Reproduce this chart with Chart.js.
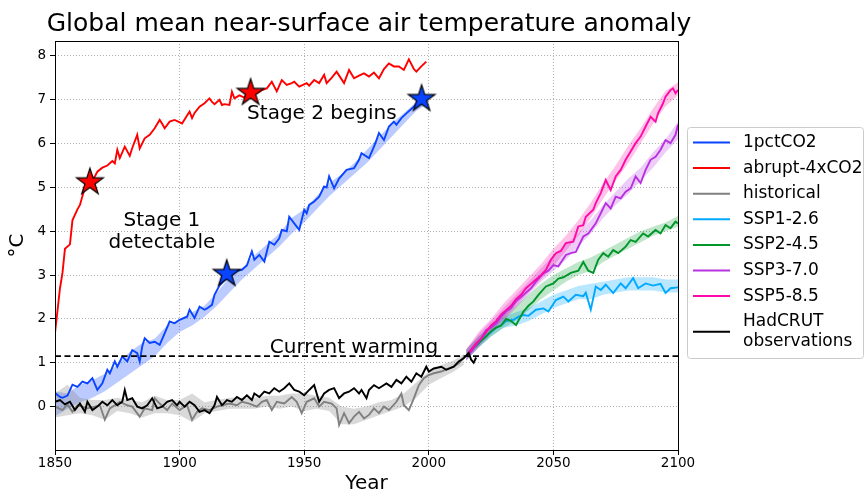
<!DOCTYPE html>
<html>
<head>
<meta charset="utf-8">
<script src="https://cdn.jsdelivr.net/npm/chart.js@4.4.1/dist/chart.umd.min.js"></script>
<style>
  html, body { margin: 0; padding: 0; background: #fff; }
  #wrap { width: 867px; height: 494px; }
</style>
</head>
<body>
<div id="wrap"><canvas id="chart" width="867" height="494"></canvas></div>
<script>
// ---- data ----
const abruptYears = [1850,1852,1853,1854,1856,1857,1859,1860,1862,1864,1866,1867,1869,1871,1873,1874,1875,1876,1877,1878,1880,1881,1883,1884,1886,1888,1890,1892,1893,1894,1896,1898,1901,1902,1904,1905,1906,1908,1910,1912,1913,1914,1916,1917,1918,1920,1921,1922,1924,1926,1927,1929,1931,1933,1935,1937,1939,1941,1943,1945,1946,1948,1951,1952,1954,1956,1958,1959,1961,1963,1966,1968,1970,1972,1974,1976,1978,1980,1982,1984,1986,1988,1990,1992,1994,1995,1997,1999];
const abruptTemp = [1.68,2.7,3.05,3.6,3.7,4.25,4.5,4.6,5.0,5.12,5.25,5.36,5.45,5.5,5.6,5.55,5.86,5.67,5.8,5.93,5.72,5.9,6.2,5.89,6.12,6.2,6.35,6.54,6.45,6.35,6.5,6.54,6.46,6.55,6.73,6.58,6.7,6.84,6.92,7.03,6.95,6.9,7.0,6.88,6.9,6.88,7.18,7.03,7.1,7.05,7.15,7.19,7.15,7.22,7.26,7.41,7.19,7.45,7.34,7.38,7.41,7.3,7.38,7.32,7.45,7.38,7.57,7.38,7.5,7.64,7.38,7.68,7.49,7.55,7.6,7.53,7.62,7.49,7.7,7.83,7.76,7.76,7.68,7.92,7.7,7.64,7.76,7.87];

const pctYears = [1850,1852,1853,1855,1857,1859,1861,1863,1865,1867,1869,1871,1872,1874,1875,1877,1879,1881,1883,1884,1885,1886,1888,1890,1892,1894,1896,1898,1900,1903,1904,1906,1908,1910,1911,1913,1914,1916,1918,1920,1923,1925,1927,1929,1930,1932,1934,1936,1938,1940,1941,1943,1944,1946,1948,1950,1951,1952,1954,1956,1958,1959,1960,1962,1964,1967,1970,1972,1973,1976,1978,1979,1980,1982,1984,1986,1987,1989,1991,1994,1996,1998];
const pctTemp = [0.31,0.22,0.2,0.25,0.5,0.45,0.57,0.53,0.65,0.38,0.53,0.84,0.76,1.03,0.91,1.14,1.03,1.29,1.22,1.03,1.37,1.56,1.45,1.48,1.41,1.67,1.94,1.9,1.98,2.05,2.21,2.02,2.28,2.21,2.24,2.32,2.55,2.76,2.89,2.97,3.1,3.12,3.22,3.54,3.35,3.46,3.31,3.76,3.69,3.84,4.03,4.0,4.33,4.18,4.03,4.49,4.41,4.6,4.68,4.79,5.02,5.0,5.25,4.98,5.2,5.4,5.44,5.63,5.78,5.67,5.93,6.08,6.24,6.08,6.39,6.5,6.43,6.58,6.69,6.84,6.96,7.02];
const pctBandYears = [1850,1855,1860,1865,1870,1875,1880,1885,1890,1895,1900,1905,1910,1915,1920,1925,1930,1935,1940,1945,1950,1955,1960,1965,1970,1975,1980,1985,1990,1995,1998];
const pctBandLow = [-0.22,-0.05,0.1,0.2,0.35,0.55,0.75,0.95,1.15,1.45,1.7,1.85,2.05,2.3,2.6,2.9,3.15,3.4,3.65,3.95,4.2,4.5,4.8,5.05,5.3,5.55,5.85,6.15,6.45,6.75,6.85];
const pctBandHigh = [0.35,0.3,0.5,0.6,0.75,0.95,1.25,1.45,1.55,1.85,2.0,2.15,2.3,2.6,2.95,3.15,3.45,3.7,3.95,4.3,4.5,4.8,5.1,5.3,5.55,5.85,6.15,6.45,6.7,6.95,7.0];

const histYears = [1850,1853,1855,1857,1859,1861,1863,1866,1868,1870,1872,1874,1876,1879,1881,1884,1886,1889,1890,1892,1895,1897,1900,1903,1905,1907,1909,1912,1915,1917,1920,1923,1925,1928,1931,1933,1935,1937,1939,1942,1945,1947,1949,1951,1954,1956,1958,1961,1963,1964,1966,1968,1970,1972,1974,1976,1978,1980,1982,1984,1987,1989,1990,1992,1994,1996,1998,2000,2002,2005,2008,2010,2012,2014];
const histTemp = [0.0,-0.08,0.05,-0.12,0.03,0.0,-0.04,0.0,0.03,-0.3,-0.04,0.03,0.11,0.03,0.0,-0.23,-0.04,-0.08,0.19,0.07,-0.08,0.07,-0.08,0.03,-0.3,-0.12,-0.04,-0.08,0.0,0.03,0.07,0.03,0.11,0.07,0.0,0.11,0.15,-0.08,0.11,0.07,0.22,0.11,-0.15,0.11,0.19,0.0,0.11,0.07,-0.04,-0.42,-0.15,-0.38,-0.23,-0.12,-0.27,-0.19,-0.04,-0.15,0.0,-0.08,0.11,0.3,0.03,-0.08,0.19,0.49,0.65,0.72,0.76,0.8,0.87,0.91,0.99,1.12];
const histBandYears = [1850,1855,1860,1865,1870,1875,1880,1885,1890,1895,1900,1905,1910,1915,1920,1925,1930,1935,1940,1945,1950,1955,1960,1965,1970,1975,1980,1985,1990,1995,2000,2005,2010,2014];
const histBandLow = [-0.25,-0.2,-0.15,-0.2,-0.3,-0.1,-0.15,-0.25,-0.15,-0.15,-0.2,-0.35,-0.15,-0.1,-0.05,-0.05,-0.05,0.0,-0.05,0.0,-0.1,-0.05,-0.1,-0.4,-0.4,-0.3,-0.2,-0.1,0.0,0.2,0.5,0.65,0.8,0.95];
const histBandHigh = [0.3,0.5,0.2,0.15,0.15,0.2,0.15,0.1,0.25,0.15,0.15,0.3,0.1,0.15,0.2,0.2,0.2,0.25,0.25,0.3,0.3,0.25,0.2,0.0,-0.05,0.0,0.1,0.15,0.3,0.55,0.8,0.95,1.05,1.2];

const obsYears = [1850,1852,1854,1856,1858,1860,1862,1863,1865,1867,1869,1871,1873,1875,1877,1878,1879,1881,1883,1885,1887,1889,1891,1893,1895,1897,1899,1900,1902,1904,1906,1908,1910,1912,1914,1915,1917,1919,1921,1923,1925,1927,1929,1930,1932,1934,1936,1938,1940,1942,1944,1946,1948,1950,1952,1954,1956,1958,1960,1962,1964,1966,1968,1970,1972,1973,1975,1976,1978,1980,1983,1985,1987,1989,1991,1993,1995,1997,1999,2000,2002,2005,2007,2010,2012,2014,2016,2017,2018,2019];
const obsTemp = [0.11,0.15,0.05,0.11,-0.08,0.07,-0.12,0.11,-0.08,0.0,0.11,0.03,0.15,0.03,0.11,0.38,0.15,0.19,0.0,-0.04,0.03,0.19,-0.04,0.0,0.11,0.15,0.03,0.11,0.0,0.11,0.03,-0.12,-0.08,-0.15,0.03,0.22,0.03,0.15,0.11,0.22,0.15,0.26,0.15,0.3,0.22,0.34,0.3,0.42,0.34,0.42,0.53,0.38,0.34,0.26,0.38,0.49,0.11,0.3,0.38,0.42,0.19,0.3,0.34,0.42,0.3,0.38,0.19,0.38,0.49,0.42,0.53,0.45,0.61,0.53,0.68,0.57,0.76,0.68,0.91,0.8,0.87,0.91,0.84,0.91,1.03,1.1,1.22,1.07,1.0,1.12];

const ssp1Years = [2015,2017,2019,2021,2023,2025,2027,2029,2031,2034,2036,2038,2040,2043,2046,2048,2051,2054,2056,2059,2062,2063,2065,2067,2069,2071,2074,2077,2079,2082,2084,2087,2090,2093,2095,2097,2100];
const ssp1Temp = [1.15,1.3,1.4,1.5,1.62,1.7,1.8,1.85,1.95,1.98,2.05,2.09,2.07,2.21,2.24,2.17,2.43,2.51,2.4,2.55,2.52,2.6,2.21,2.74,2.66,2.78,2.59,2.81,2.7,2.93,2.7,2.81,2.76,2.8,2.59,2.7,2.72];
const ssp2Years = [2015,2017,2019,2021,2023,2025,2027,2029,2031,2033,2035,2038,2040,2042,2044,2047,2050,2052,2054,2057,2060,2062,2064,2066,2068,2070,2072,2074,2076,2079,2081,2083,2086,2088,2091,2093,2095,2097,2099,2100];
const ssp2Temp = [1.15,1.3,1.38,1.5,1.6,1.72,1.8,1.85,2.0,1.95,1.86,2.17,2.3,2.4,2.55,2.74,2.81,2.92,2.95,3.05,3.1,3.3,3.1,3.05,3.35,3.5,3.42,3.57,3.5,3.65,3.8,3.76,3.95,3.88,4.03,3.95,4.14,4.07,4.22,4.18];
const ssp3Years = [2015,2017,2019,2021,2023,2025,2027,2029,2031,2033,2035,2037,2039,2041,2043,2046,2048,2050,2052,2055,2057,2059,2062,2064,2067,2069,2071,2073,2075,2077,2079,2081,2083,2085,2087,2089,2091,2093,2095,2097,2099,2100];
const ssp3Temp = [1.15,1.25,1.4,1.55,1.75,1.8,1.9,2.05,2.17,2.25,2.4,2.5,2.6,2.7,2.85,3.04,3.1,3.23,3.2,3.46,3.5,3.53,3.88,3.95,4.18,4.41,4.64,4.52,4.79,4.75,4.9,4.98,5.25,5.1,5.4,5.63,5.7,5.86,6.08,6.01,6.2,6.43];
const ssp5Years = [2015,2017,2019,2021,2023,2025,2027,2029,2031,2033,2035,2037,2039,2041,2043,2045,2047,2049,2051,2053,2055,2058,2060,2062,2063,2066,2067,2069,2071,2073,2075,2077,2079,2081,2083,2085,2087,2089,2091,2092,2094,2095,2097,2098,2099,2100];
const ssp5Temp = [1.15,1.3,1.45,1.55,1.7,1.85,1.95,2.1,2.2,2.3,2.45,2.55,2.7,2.8,2.9,3.0,3.12,3.35,3.5,3.55,3.73,3.76,4.11,4.14,4.33,4.49,4.64,4.87,5.17,4.94,5.25,5.4,5.63,5.82,6.01,6.16,6.39,6.61,6.5,6.69,6.92,7.07,7.22,7.26,7.15,7.22];

const sspBandYears = [2015,2020,2025,2030,2035,2040,2045,2050,2055,2060,2065,2070,2075,2080,2085,2090,2095,2100];
const ssp1Low = [1.05,1.35,1.6,1.8,1.85,1.95,2.1,2.25,2.35,2.45,2.45,2.55,2.6,2.65,2.65,2.65,2.6,2.6];
const ssp1High = [1.3,1.6,1.85,2.05,2.15,2.25,2.4,2.55,2.65,2.75,2.8,2.85,2.9,2.95,2.95,2.95,2.9,2.9];
const ssp2Low = [1.05,1.35,1.6,1.8,1.95,2.2,2.45,2.65,2.85,3.0,3.1,3.3,3.45,3.6,3.75,3.9,4.0,4.1];
const ssp2High = [1.3,1.6,1.85,2.1,2.3,2.55,2.8,3.0,3.15,3.3,3.4,3.55,3.7,3.85,4.0,4.1,4.2,4.35];
const ssp3Low = [1.05,1.35,1.65,1.95,2.25,2.55,2.85,3.1,3.35,3.65,3.95,4.3,4.6,4.85,5.15,5.45,5.8,6.1];
const ssp3High = [1.3,1.65,1.95,2.25,2.55,2.85,3.15,3.45,3.7,3.95,4.25,4.6,4.9,5.2,5.45,5.8,6.1,6.5];
const ssp5Low = [1.05,1.4,1.7,2.0,2.3,2.6,2.9,3.2,3.55,3.9,4.3,4.75,5.15,5.55,6.0,6.45,6.85,7.1];
const ssp5High = [1.3,1.7,2.0,2.35,2.65,2.95,3.25,3.6,3.9,4.25,4.65,5.1,5.5,5.95,6.35,6.8,7.2,7.4];

const currentWarming = 1.15;
const warmingYears = [1850, 2100];

const redStarYears = [1864, 1928.5];
const redStarTemp = [5.13, 7.17];
const blueStarYears = [1918.9, 1997.1];
const blueStarTemp = [3.04, 7.03];

const xTicks = [1850, 1900, 1950, 2000, 2050, 2100];
const yTicks = [0, 1, 2, 3, 4, 5, 6, 7, 8];

// ---- helpers ----
Chart.defaults.font.family = "'DejaVu Sans', sans-serif";
Chart.defaults.color = '#000';

function pts(xs, ys) {
  return xs.map((x, i) => ({ x: x, y: ys[i] }));
}

function starImage(fill) {
  const c = document.createElement('canvas');
  c.width = 32; c.height = 32;
  const g = c.getContext('2d');
  const R = 14, r = 14 * 0.382;
  g.beginPath();
  for (let k = 0; k < 10; k++) {
    const rad = k % 2 === 0 ? R : r;
    const ang = -Math.PI / 2 + k * Math.PI / 5;
    const px = 16 + rad * Math.cos(ang), py = 16.5 + rad * Math.sin(ang);
    if (k === 0) g.moveTo(px, py); else g.lineTo(px, py);
  }
  g.closePath();
  g.fillStyle = fill;
  g.fill();
  g.lineWidth = 1.2;
  g.strokeStyle = '#000';
  g.stroke();
  return c;
}

const datasets = [];

function addLine(label, xs, ys, color, order) {
  datasets.push({
    label: label, data: pts(xs, ys), borderColor: color, backgroundColor: color,
    borderWidth: 1.9, pointRadius: 0, fill: false, order: order, inLegend: true
  });
}

function addBand(xs, lo, hi, color, order) {
  const lowIndex = datasets.length;
  datasets.push({
    data: pts(xs, lo), borderColor: 'rgba(0,0,0,0)', borderWidth: 0,
    pointRadius: 0, fill: false, order: order
  });
  datasets.push({
    data: pts(xs, hi), borderColor: 'rgba(0,0,0,0)', borderWidth: 0,
    pointRadius: 0, fill: { target: lowIndex }, backgroundColor: color, order: order
  });
}

// legend order
addLine('1pctCO2', pctYears, pctTemp, '#0a44ff', 9);
addLine('abrupt-4xCO2', abruptYears, abruptTemp, '#ff0000', 8);
addLine('historical', histYears, histTemp, '#808080', 7);
addLine('SSP1-2.6', ssp1Years, ssp1Temp, '#00a8ff', 6);
addLine('SSP2-4.5', ssp2Years, ssp2Temp, '#00962a', 5);
addLine('SSP3-7.0', ssp3Years, ssp3Temp, '#b832e0', 4);
addLine('SSP5-8.5', ssp5Years, ssp5Temp, '#ff0aa8', 3);
addLine('HadCRUT\nobservations', obsYears, obsTemp, '#000000', 2);

datasets.push({
  data: pts(warmingYears, [currentWarming, currentWarming]), borderColor: '#000',
  borderWidth: 1.8, borderDash: [6, 3.5], pointRadius: 0, fill: false, order: 1
});
datasets.push({
  data: pts(redStarYears, redStarTemp), showLine: false, pointStyle: starImage('#ff0000'),
  pointRadius: 14, borderColor: '#000', backgroundColor: '#f00', order: 0
});
datasets.push({
  data: pts(blueStarYears, blueStarTemp), showLine: false, pointStyle: starImage('#0a44ff'),
  pointRadius: 14, borderColor: '#000', backgroundColor: '#00f', order: 0
});

addBand(sspBandYears, ssp5Low, ssp5High, 'rgba(255,10,168,0.25)', 10);
addBand(sspBandYears, ssp3Low, ssp3High, 'rgba(184,50,224,0.25)', 11);
addBand(sspBandYears, ssp2Low, ssp2High, 'rgba(0,150,42,0.25)', 12);
addBand(sspBandYears, ssp1Low, ssp1High, 'rgba(0,168,255,0.28)', 13);
addBand(histBandYears, histBandLow, histBandHigh, 'rgba(128,128,128,0.3)', 14);
addBand(pctBandYears, pctBandLow, pctBandHigh, 'rgba(10,68,255,0.28)', 15);

const annotations = [
  { text: 'Stage 1', x: 1892.9, y: 4.13 },
  { text: 'detectable', x: 1892.9, y: 3.61 },
  { text: 'Stage 2 begins', x: 1957.1, y: 6.56 },
  { text: 'Current warming', x: 1970, y: 1.22 }
];

const decor = {
  id: 'decor',
  afterDraw(chart) {
    const ctx = chart.ctx, a = chart.chartArea;
    const sx = chart.scales.x, sy = chart.scales.y;
    ctx.save();
    // axes frame
    ctx.strokeStyle = '#000';
    ctx.lineWidth = 1;
    ctx.strokeRect(Math.round(a.left) + 0.5, Math.round(a.top) + 0.5,
      Math.round(a.right - a.left), Math.round(a.bottom - a.top));
    // title
    ctx.fillStyle = '#000';
    ctx.textAlign = 'center';
    ctx.textBaseline = 'alphabetic';
    ctx.font = "25px 'DejaVu Sans'";
    ctx.fillText('Global mean near-surface air temperature anomaly', 369, 31);
    // annotations
    ctx.font = "20px 'DejaVu Sans'";
    annotations.forEach(t => {
      ctx.fillText(t.text, sx.getPixelForValue(t.x), sy.getPixelForValue(t.y));
    });
    // legend
    const bx = 687, by = 127, bw = 176, bh = 231;
    ctx.beginPath();
    ctx.roundRect(bx + 0.5, by + 0.5, bw, bh, 3);
    ctx.fillStyle = 'rgba(255,255,255,0.8)';
    ctx.fill();
    ctx.strokeStyle = '#cccccc';
    ctx.stroke();
    ctx.font = "17px 'DejaVu Sans'";
    ctx.textAlign = 'left';
    ctx.textBaseline = 'middle';
    let y = 142.5;
    chart.data.datasets.filter(d => d.inLegend).forEach(d => {
      const lines = d.label.split('\n');
      const cy = y + (lines.length - 1) * 10;
      ctx.strokeStyle = d.borderColor;
      ctx.lineWidth = 2;
      ctx.beginPath();
      ctx.moveTo(693, cy);
      ctx.lineTo(730, cy);
      ctx.stroke();
      ctx.fillStyle = '#000';
      lines.forEach((ln, i) => ctx.fillText(ln, 743, y + i * 20));
      y += 25.6 + (lines.length - 1) * 20;
    });
    ctx.restore();
  }
};

new Chart(document.getElementById('chart'), {
  type: 'line',
  data: { datasets: datasets },
  options: {
    responsive: false,
    animation: false,
    layout: { padding: { top: 41, right: 189, left: 0, bottom: 0 } },
    plugins: { legend: { display: false }, tooltip: { enabled: false } },
    elements: { line: { tension: 0 } },
    scales: {
      x: {
        type: 'linear', min: 1850, max: 2100,
        afterBuildTicks: s => { s.ticks = xTicks.map(v => ({ value: v })); },
        afterFit: s => { s.height = 44; s.paddingLeft = 0; s.paddingRight = 0; },
        ticks: { font: { size: 13.5 }, color: '#000', padding: 0, autoSkip: false, maxRotation: 0,
          callback: v => String(v) },
        grid: { color: '#b0b0b0', lineWidth: 1, tickLength: 5, tickColor: '#000', tickWidth: 1, tickBorderDash: [] },
        border: { display: false, dash: [1, 2] },
        title: { display: true, text: 'Year', font: { size: 20 }, color: '#000', padding: { top: 0, bottom: -2 } }
      },
      y: {
        type: 'linear', min: -0.99, max: 8.34,
        afterBuildTicks: s => { s.ticks = yTicks.map(v => ({ value: v })); },
        afterFit: s => { s.width = 55; s.paddingTop = 0; s.paddingBottom = 0; },
        ticks: { font: { size: 13.5 }, color: '#000', padding: 4, callback: v => String(v) },
        grid: { color: '#b0b0b0', lineWidth: 1, tickLength: 5, tickColor: '#000', tickWidth: 1, tickBorderDash: [] },
        border: { display: false, dash: [1, 2] },
        title: { display: true, text: '°C', font: { size: 20 }, color: '#000', padding: { top: 6, bottom: 0 } }
      }
    }
  },
  plugins: [decor]
});
</script>
</body>
</html>
